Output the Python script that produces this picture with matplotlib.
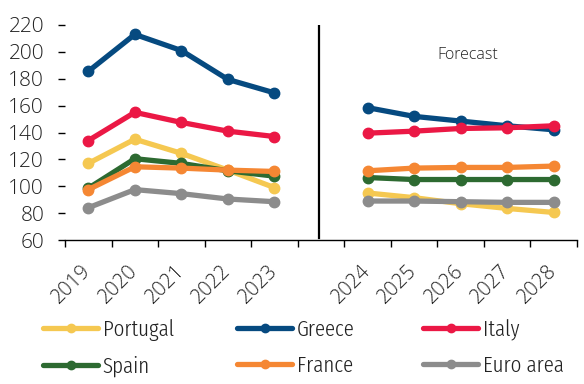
import matplotlib
matplotlib.use("Agg")
from matplotlib import pyplot as plt
from matplotlib.lines import Line2D
import numpy as np

# years on the category axis, one empty slot between actuals and forecast
years_hist = ["2019", "2020", "2021", "2022", "2023"]
years_fcst = ["2024", "2025", "2026", "2027", "2028"]

countries = ["Portugal", "Greece", "Italy", "Spain", "France", "Euro area"]
colors = ["#F5C851", "#064A80", "#EB1845", "#2D6A31", "#F58733", "#8C8C8C"]

portugal_hist = [117, 135, 124.5, 112, 99]
greece_hist = [185.5, 213, 201, 179.5, 169.5]
italy_hist = [134, 155, 147.5, 141, 137]
spain_hist = [98.5, 120.5, 117, 111.5, 107.5]
france_hist = [97.5, 114.5, 113.5, 112, 111]
euro_hist = [84, 97.5, 94.5, 90.5, 88.5]

portugal_fcst = [95, 91.5, 87, 83.5, 80.5]
greece_fcst = [158.5, 152, 148.5, 145, 142]
italy_fcst = [139.5, 141, 143, 143.5, 145]
spain_fcst = [106.5, 105, 105, 105, 105]
france_fcst = [111.5, 113.5, 114, 114, 115]
euro_fcst = [89, 89, 88.5, 88, 88]

hist = [portugal_hist, greece_hist, italy_hist, spain_hist, france_hist, euro_hist]
fcst = [portugal_fcst, greece_fcst, italy_fcst, spain_fcst, france_fcst, euro_fcst]

labels = years_hist + [""] + years_fcst
x_hist = np.arange(len(years_hist))
x_fcst = np.arange(len(years_fcst)) + len(years_hist) + 1

plt.rcParams["font.family"] = ["Open Sans", "DejaVu Sans"]
plt.rcParams["font.weight"] = 300

fig = plt.figure(figsize=(5.84, 3.84), dpi=100)
ax = fig.add_axes([65 / 584, 1 - 240 / 384, 512 / 584, 215 / 384])

lw = 3.8
ms = 7.5
for i in range(len(countries)):
  ax.plot(x_hist, hist[i], color=colors[i], lw=lw, marker="o", ms=ms,
          solid_capstyle="round")
  ax.plot(x_fcst, fcst[i], color=colors[i], lw=lw, marker="o", ms=ms,
          solid_capstyle="round")

# divider between actuals and forecast
ax.plot([4.95, 4.95], [61.5, 219.5], color="black", lw=1.6)
ax.text(8.15, 197.5, "Forecast", ha="center", va="center", fontsize=11.5,
        color="#222222", fontweight=300)

ax.set_xlim(-0.5, len(labels) - 0.5)
ax.set_ylim(60, 220)
ax.set_yticks(np.arange(60, 221, 20))
ax.tick_params(axis="y", length=5, width=1, pad=10, labelsize=15,
               labelcolor="#222222")
ax.set_xticks(np.arange(-0.5, len(labels), 1))
ax.set_xticklabels([])
ax.tick_params(axis="x", which="major", length=5, width=1)
ax.set_xticks(np.arange(len(labels)), minor=True)
ax.set_xticklabels(labels, minor=True, rotation=45, ha="right", va="center",
                   rotation_mode="anchor", fontsize=14.5, color="#222222")
ax.tick_params(axis="x", which="minor", length=0, pad=20)

for s in ["top", "right", "left"]:
  ax.spines[s].set_visible(False)
ax.spines["bottom"].set_linewidth(1)

# legend: three columns of two entries
legend_font = {"family": ["Fira Sans Extra Condensed", "Roboto Condensed",
                          "DejaVu Sans"], "size": 16.5, "weight": 300}
col_x = [43, 237, 423]
for c in range(3):
  handles = []
  for r in range(2):
    k = r * 3 + c
    handles.append(Line2D([], [], color=colors[k], lw=lw, marker="o", ms=6,
                          solid_capstyle="round", label=countries[k]))
  fig.legend(handles=handles, loc="upper left",
             bbox_to_anchor=(col_x[c] / 584, 1 - 319 / 384),
             frameon=False, prop=legend_font, handlelength=2.4,
             handletextpad=0.2, labelspacing=0.65, borderaxespad=0,
             borderpad=0, labelcolor="#222222")

fig.savefig("out.png", dpi=100)
